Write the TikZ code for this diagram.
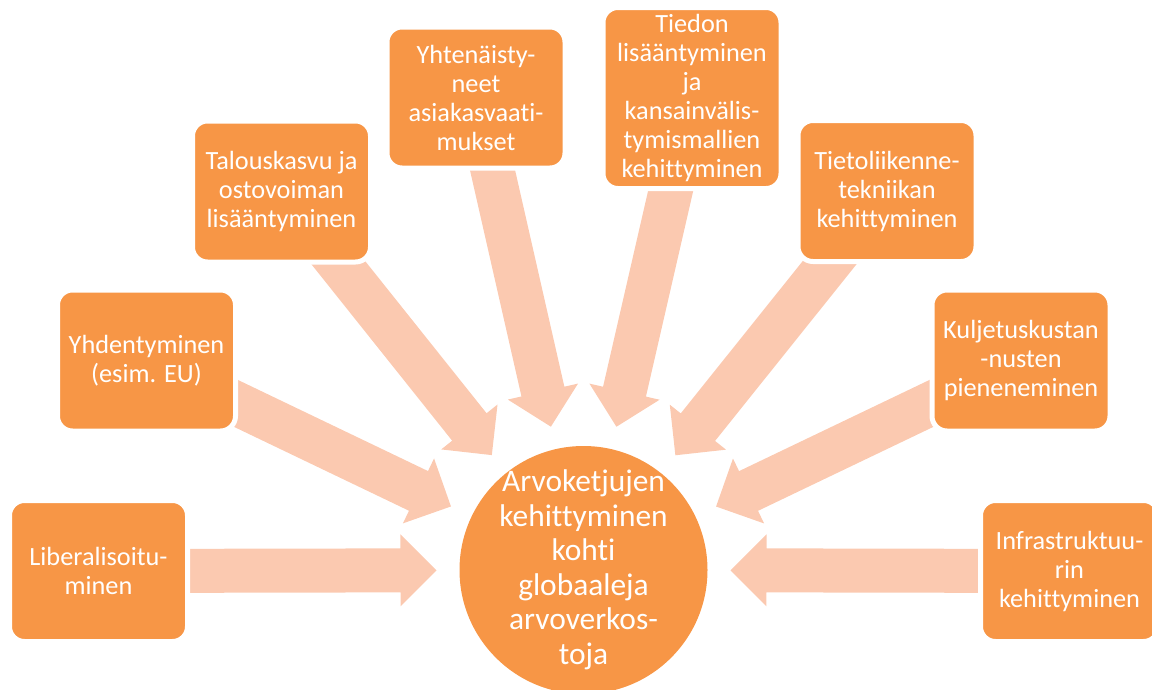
\documentclass[tikz,border=0pt]{standalone}
\usepackage{fontspec}
\setmainfont{Carlito}[Ligatures={NoCommon,NoRare,NoContextual}]
\usetikzlibrary{calc}
\definecolor{boxor}{RGB}{247,150,70}
\definecolor{arrpeach}{RGB}{251,201,176}
\pgfdeclarelayer{bg}
\pgfsetlayers{bg,main}
\newcommand\fatarrow[1]{%
  \coordinate (P) at ($(circ.center)!147pt!(#1.center)$);
  \coordinate (H) at ($(P)!36pt!(#1.center)$);
  \fill[fatarrowstyle] ($(#1.center)!22pt!90:(P)$) -- ($(H)!22pt!90:(P)$) -- ($(H)!36pt!90:(P)$) -- (P)
    -- ($(H)!36pt!-90:(P)$) -- ($(H)!22pt!-90:(P)$) -- ($(#1.center)!22pt!-90:(P)$) -- cycle;
}
\begin{document}
\begin{tikzpicture}[x=1pt,y=-1pt,
  box/.style={draw=white, line width=5pt, fill=boxor, rounded corners=15pt,
    minimum width=178pt, minimum height=141pt, inner sep=0pt, align=center,
    text=white, font=\fontsize{26.3}{29}\selectfont},
  fatarrowstyle/.style={fill=arrpeach}]
\useasboundingbox (0,0) rectangle (1152,689);
\node[box] (b1) at (98.5,571) {Liberalisoitu-\\minen};
\node[box] (b2) at (146.5,360.5) {Yhdentyminen\\(esim. EU)};
\node[box] (b3) at (281.5,191.5) {Talouskasvu ja\\ostovoiman\\lisääntyminen};
\node[box] (b4) at (476,97.5) {Yhtenäisty-\\neet\\asiakasvaati-\\mukset};
\node[box, minimum height=181pt] (b5) at (692,98) {Tiedon\\lisääntyminen\\ja\\kansainvälis-\\tymismallien\\kehittyminen};
\node[box] (b6) at (887,191) {Tietoliikenne-\\tekniikan\\kehittyminen};
\node[box] (b7) at (1021,360.5) {Kuljetuskustan\\-nusten\\pieneneminen};
\node[box] (b8) at (1069.5,571) {Infrastruktuu-\\rin\\kehittyminen};
\node[circle, fill=boxor, minimum size=248pt, inner sep=0pt] (circ) at (583.5,570) {};
\node[text=white, align=center, inner sep=0pt, font=\fontsize{31.4}{34.5}\selectfont] (circtext) at (circ.center)
  {Arvoketjujen\\kehittyminen\\kohti\\globaaleja\\arvoverkos-\\toja};
\begin{pgfonlayer}{bg}
\fatarrow{b1}
\fatarrow{b2}
\fatarrow{b3}
\fatarrow{b4}
\fatarrow{b5}
\fatarrow{b6}
\fatarrow{b7}
\fatarrow{b8}
\end{pgfonlayer}
\end{tikzpicture}
\end{document}
